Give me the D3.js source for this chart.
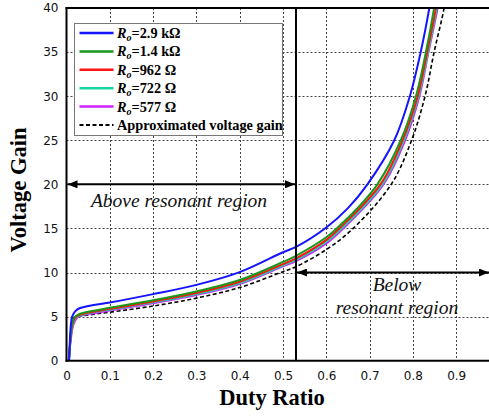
<!DOCTYPE html>
<html>
<head>
<meta charset="utf-8">
<script src="https://cdn.jsdelivr.net/npm/d3@7"></script>
<style>
  body { margin: 0; background: #fff; }
  svg { display: block; }
</style>
</head>
<body>
<svg id="chart" width="489" height="418"></svg>
<script>
// tick values
const dutyTicks = [0, 0.1, 0.2, 0.3, 0.4, 0.5, 0.6, 0.7, 0.8, 0.9];
const gainTicks = [0, 5, 10, 15, 20, 25, 30, 35, 40];

// legend labels (load resistance)
const loadLabels = ["2.9 k\u03A9", "1.4 k\u03A9", "962 \u03A9", "722 \u03A9", "577 \u03A9"];
const loadColors = ["#1414ff", "#1a961a", "#ff1414", "#14d8a0", "#cc22ff"];

// [duty ratio, voltage gain]
const gainRo2900 = [[0.006, 0], [0.008, 2.5], [0.01, 4.0], [0.013, 5.0], [0.02, 5.6], [0.03, 5.95], [0.05, 6.2],
    [0.1, 6.6], [0.2, 7.55], [0.3, 8.6], [0.4, 10.05], [0.5, 12.3], [0.53, 12.9], [0.6, 15.1], [0.65, 17.3],
    [0.695, 20], [0.757, 25], [0.793, 30], [0.818, 35], [0.838, 40], [0.848, 43]];
const gainRo1400 = [[0.006, 0], [0.009, 2.5], [0.012, 4.0], [0.018, 4.9], [0.03, 5.3], [0.05, 5.55],
    [0.1, 6.0], [0.2, 6.85], [0.3, 7.85], [0.4, 9.15], [0.5, 11.2], [0.53, 11.9], [0.6, 14.0], [0.624, 15],
    [0.67, 17.2], [0.718, 20], [0.772, 25], [0.807, 30], [0.83, 35], [0.849, 40], [0.858, 43]];
const gainRo962 = [[0.0055, 0], [0.009, 2.3], [0.013, 4.0], [0.02, 4.9], [0.03, 5.2], [0.05, 5.45],
    [0.1, 5.88], [0.2, 6.72], [0.3, 7.68], [0.4, 8.95], [0.5, 10.95], [0.53, 11.6], [0.6, 13.7], [0.63, 15],
    [0.725, 20], [0.776, 25], [0.811, 30], [0.833, 35], [0.853, 40], [0.862, 43]];
const gainRo722 = [[0.0055, 0], [0.009, 2.2], [0.014, 4.0], [0.022, 4.9], [0.035, 5.2], [0.05, 5.38],
    [0.1, 5.8], [0.2, 6.62], [0.3, 7.56], [0.4, 8.82], [0.5, 10.82], [0.53, 11.45], [0.6, 13.5], [0.635, 15],
    [0.729, 20], [0.779, 25], [0.813, 30], [0.835, 35], [0.855, 40], [0.864, 43]];
const gainRo577 = [[0.005, 0], [0.009, 2.0], [0.016, 4.1], [0.027, 5.0], [0.04, 5.2], [0.06, 5.35],
    [0.1, 5.7], [0.2, 6.52], [0.3, 7.45], [0.4, 8.7], [0.5, 10.7], [0.53, 11.3], [0.6, 13.3], [0.639, 15],
    [0.732, 20], [0.782, 25], [0.815, 30], [0.836, 35], [0.857, 40], [0.866, 43]];
const approxGain = [[0.012, 4.85], [0.03, 5.05], [0.06, 5.25], [0.1, 5.5], [0.2, 6.2], [0.3, 7.1],
    [0.4, 8.3], [0.5, 10.1], [0.53, 10.66], [0.6, 12.6], [0.662, 15], [0.75, 20], [0.797, 25],
    [0.828, 30], [0.849, 35], [0.872, 40], [0.88, 43]];

const boundaryDuty = 0.53;
const aboveArrowGain = 20;
const belowArrowGain = 10;

const svg = d3.select("#chart");
const W = +svg.attr("width");

const margin = { top: 8, left: 66.5, bottom: 57.3 };
const x = d3.scaleLinear().domain([0, 1]).range([margin.left, margin.left + 433]);
const y = d3.scaleLinear().domain([0, 40]).range([418 - margin.bottom, margin.top]);

const defs = svg.append("defs");
defs.append("clipPath").attr("id", "plot-clip")
    .append("rect")
    .attr("x", x(0)).attr("y", y(40))
    .attr("width", W - x(0)).attr("height", y(0) - y(40));

defs.append("marker")
    .attr("id", "arrow")
    .attr("viewBox", "0 0 10 8")
    .attr("refX", 10).attr("refY", 4)
    .attr("markerWidth", 10).attr("markerHeight", 8)
    .attr("markerUnits", "userSpaceOnUse")
    .attr("orient", "auto-start-reverse")
    .append("path")
    .attr("d", "M0,0 L10,4 L0,8 Z")
    .attr("fill", "#000");

// grid
const grid = svg.append("g").attr("class", "grid")
    .attr("stroke", "#444").attr("stroke-width", 1).attr("stroke-dasharray", "2,2");
grid.selectAll("line.v")
    .data(dutyTicks.filter(d => d > 0))
    .join("line").attr("class", "v")
    .attr("x1", d => Math.round(x(d)) + 0.5).attr("x2", d => Math.round(x(d)) + 0.5)
    .attr("y1", y(40)).attr("y2", y(0));
grid.selectAll("line.h")
    .data(gainTicks.filter(d => d > 0 && d < 40))
    .join("line").attr("class", "h")
    .attr("x1", x(0)).attr("x2", W)
    .attr("y1", d => Math.round(y(d)) + 0.5).attr("y2", d => Math.round(y(d)) + 0.5);

// axes (labels only, frame drawn below)
const xAxis = svg.append("g")
    .attr("transform", "translate(0," + y(0) + ")")
    .call(d3.axisBottom(x).tickValues(dutyTicks).tickSize(0).tickPadding(11)
        .tickFormat(d => d === 0 ? "0" : d3.format(".1f")(d)));
const yAxis = svg.append("g")
    .attr("transform", "translate(" + x(0) + ",0)")
    .call(d3.axisLeft(y).tickValues(gainTicks).tickSize(0).tickPadding(8));
[xAxis, yAxis].forEach(ax => {
    ax.select(".domain").remove();
    ax.selectAll("text")
        .attr("font-family", "'DejaVu Sans', sans-serif")
        .attr("font-size", 12)
        .attr("fill", "#111");
});

// curves
const line = d3.line()
    .x(d => x(d[0]))
    .y(d => y(d[1]))
    .curve(d3.curveCatmullRom.alpha(0.5));

const curves = svg.append("g").attr("clip-path", "url(#plot-clip)");
const series = [gainRo2900, gainRo1400, gainRo962, gainRo722, gainRo577];

curves.append("path")
    .datum(approxGain)
    .attr("fill", "none")
    .attr("stroke", "#000")
    .attr("stroke-width", 1.6)
    .attr("stroke-dasharray", "4,2.5")
    .attr("d", line);

curves.selectAll("path.ro")
    .data(series.slice().reverse())
    .join("path").attr("class", "ro")
    .attr("fill", "none")
    .attr("stroke", (d, i) => loadColors[series.length - 1 - i])
    .attr("stroke-width", 2)
    .attr("d", line);

// frame
const frame = svg.append("g").attr("stroke", "#000").attr("stroke-width", 2);
frame.append("line").attr("x1", x(0)).attr("x2", x(0)).attr("y1", y(40) - 1).attr("y2", y(0) + 1);
frame.append("line").attr("x1", x(0) - 1).attr("x2", W).attr("y1", y(0)).attr("y2", y(0));
frame.append("line").attr("x1", x(0) - 1).attr("x2", W).attr("y1", y(40)).attr("y2", y(40));
frame.append("line").attr("x1", x(boundaryDuty)).attr("x2", x(boundaryDuty)).attr("y1", y(40)).attr("y2", y(0));

// region arrows + labels
const notes = svg.append("g");
notes.append("line")
    .attr("x1", x(0) + 1).attr("x2", x(boundaryDuty) - 1)
    .attr("y1", y(aboveArrowGain)).attr("y2", y(aboveArrowGain))
    .attr("stroke", "#000").attr("stroke-width", 2)
    .attr("marker-start", "url(#arrow)").attr("marker-end", "url(#arrow)");
notes.append("line")
    .attr("x1", x(boundaryDuty) + 1).attr("x2", W)
    .attr("y1", y(belowArrowGain)).attr("y2", y(belowArrowGain))
    .attr("stroke", "#000").attr("stroke-width", 2)
    .attr("marker-start", "url(#arrow)").attr("marker-end", "url(#arrow)");

const noteText = (tx, ty, s) => notes.append("text")
    .attr("x", tx).attr("y", ty)
    .attr("text-anchor", "middle")
    .attr("font-family", "'Liberation Serif', 'Times New Roman', serif")
    .attr("font-style", "italic")
    .attr("font-size", 19.5)
    .attr("fill", "#111")
    .text(s);
noteText(179, 207, "Above resonant region");
noteText(397, 291, "Below");
noteText(397, 313.5, "resonant region");

// axis titles
svg.append("text")
    .attr("x", 272).attr("y", 405)
    .attr("text-anchor", "middle")
    .attr("font-family", "'Liberation Serif', 'Times New Roman', serif")
    .attr("font-weight", "bold")
    .attr("font-size", 22.5)
    .text("Duty Ratio");
svg.append("text")
    .attr("transform", "translate(26,190) rotate(-90)")
    .attr("text-anchor", "middle")
    .attr("font-family", "'Liberation Serif', 'Times New Roman', serif")
    .attr("font-weight", "bold")
    .attr("font-size", 22.5)
    .text("Voltage Gain");

// legend
const legend = svg.append("g")
    .attr("font-family", "'Liberation Serif', 'Times New Roman', serif")
    .attr("font-weight", "bold")
    .attr("font-size", 14.3);
legend.append("rect")
    .attr("x", 74.5).attr("y", 23.5).attr("width", 208).attr("height", 112)
    .attr("fill", "#fff").attr("stroke", "#777").attr("stroke-width", 1);

const rowY = i => 33 + i * 18.4;
const rows = legend.selectAll("g.row")
    .data(loadLabels)
    .join("g").attr("class", "row")
    .attr("transform", (d, i) => "translate(0," + rowY(i) + ")");
rows.append("line")
    .attr("x1", 79.5).attr("x2", 113.5)
    .attr("stroke", (d, i) => loadColors[i]).attr("stroke-width", 2.5);
const rowText = rows.append("text").attr("x", 117).attr("y", 5);
rowText.append("tspan").attr("font-style", "italic").text("R");
rowText.append("tspan").attr("font-style", "italic").attr("font-size", 10).attr("dy", 3).text("o");
rowText.append("tspan").attr("dy", -3).text(d => "=" + d);

const approxRow = legend.append("g").attr("transform", "translate(0," + rowY(5) + ")");
approxRow.append("line")
    .attr("x1", 79.5).attr("x2", 113.5)
    .attr("stroke", "#000").attr("stroke-width", 2).attr("stroke-dasharray", "4,2.5");
approxRow.append("text").attr("x", 117).attr("y", 5).text("Approximated voltage gain");
</script>
</body>
</html>
